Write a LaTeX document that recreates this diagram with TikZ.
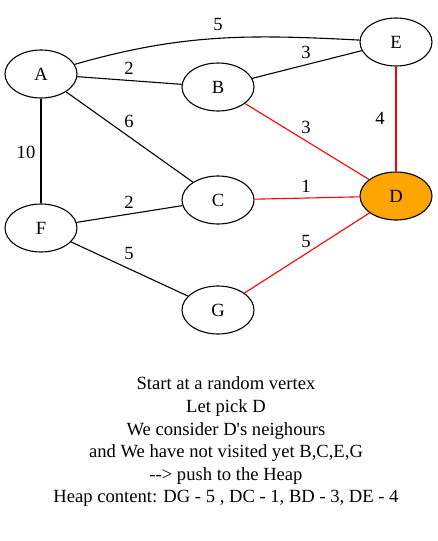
\documentclass[tikz,border=0pt]{standalone}
\usepackage{fontspec}
\setmainfont{Liberation Serif}
\usetikzlibrary{shapes.geometric}
\definecolor{heapfill}{HTML}{FFA500}
\tikzset{
	vertex/.style={draw, ellipse, minimum width=72pt, minimum height=48pt, inner sep=0pt, font=\fontsize{18.6}{18.6}\selectfont},
	weight/.style={inner sep=1pt, font=\fontsize{18.6}{18.6}\selectfont},
	tovisit/.style={draw=red}
}

\begin{document}
\begin{tikzpicture}[x=1pt, y=-1pt, line width=1.1pt]
			%%%%% START %%%%%
			\useasboundingbox (0, 0) rectangle (437, 541);
			
			\node[vertex] (A) at (41, 74) {A};
			\node[vertex] (B) at (218, 87) {B};
			\node[vertex] (C) at (218, 200) {C};
			\node[vertex, fill=heapfill] (D) at (396, 196) {D};
			\node[vertex] (E) at (396, 42) {E};
			\node[vertex] (F) at (41, 228) {F};
			\node[vertex] (G) at (218, 310) {G};
			
			\draw (A) to[out=16, in=177] (E);
			\draw (A) -- (B);
			\draw (B) -- (E);
			\draw (A) -- (C);
			\draw (A) -- (F);
			\draw (F) -- (C);
			\draw (F) -- (G);
			
			\draw[tovisit] (B) -- (D);
			\draw[tovisit] (E) -- (D);
			\draw[tovisit] (C) -- (D);
			\draw[tovisit] (G) -- (D);
			
			\node[weight] (wAE) at (218, 24) {5};
			\node[weight] (wAB) at (129, 68) {2};
			\node[weight] (wBE) at (306, 52) {3};
			\node[weight] (wAC) at (129, 121) {6};
			\node[weight] (wAF) at (26, 152) {10};
			\node[weight] (wBD) at (306, 127) {3};
			\node[weight] (wED) at (380, 118) {4};
			\node[weight] (wCD) at (306, 186) {1};
			\node[weight] (wFC) at (129, 202) {2};
			\node[weight] (wFG) at (129, 253) {5};
			\node[weight] (wGD) at (306, 241) {5};
			
			\node[align=center, font=\fontsize{18.6}{22.6}\selectfont] (caption) at (226, 442)
			{Start at a random vertex\\
			Let pick D\\
			We consider D\textquotesingle s neighours\\
			and We have not visited yet B,C,E,G\\
			{-}{-}> push to the Heap\\
			Heap content: DG - 5 , DC - 1, BD - 3, DE - 4};
			%%%%% END %%%%%
\end{tikzpicture}
\end{document}
